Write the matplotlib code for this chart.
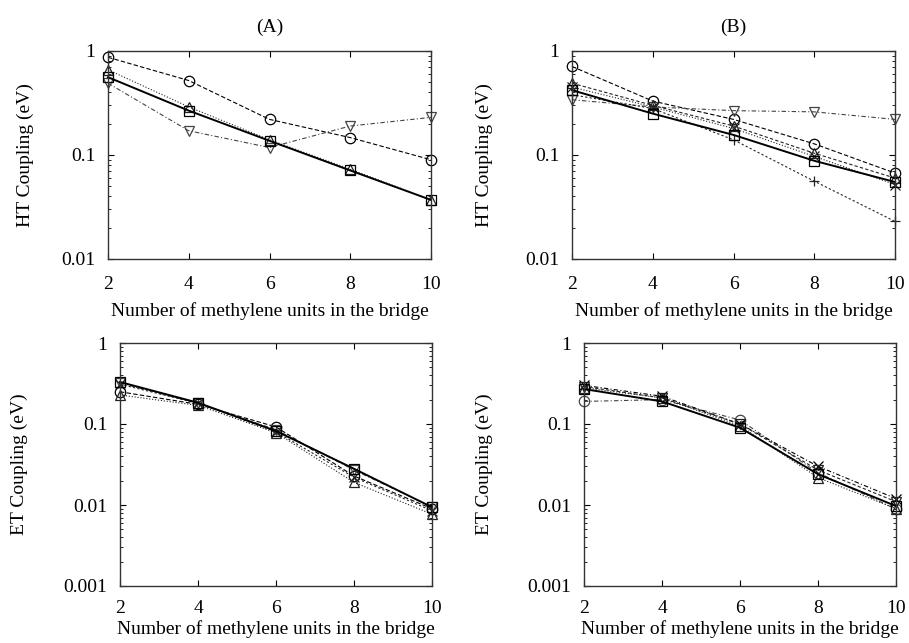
import matplotlib
matplotlib.use("Agg")
import matplotlib.pyplot as plt
from matplotlib.ticker import LogLocator, FixedLocator, FuncFormatter, NullFormatter

plt.rcParams["font.family"] = ["Liberation Serif", "DejaVu Serif"]
plt.rcParams["font.size"] = 14

bridge = [2, 4, 6, 8, 10]

# (A) hole transfer couplings
ht_a_square = [0.56, 0.267, 0.137, 0.071, 0.037]
ht_a_triup = [0.66, 0.29, 0.14, 0.073, 0.037]
ht_a_circle = [0.87, 0.52, 0.22, 0.147, 0.09]
ht_a_tridown = [0.49, 0.171, 0.118, 0.19, 0.23]

# (B) hole transfer couplings
ht_b_square = [0.42, 0.25, 0.156, 0.088, 0.055]
ht_b_circle = [0.71, 0.33, 0.22, 0.128, 0.067]
ht_b_tridown = [0.34, 0.29, 0.267, 0.26, 0.22]
ht_b_plus = [0.38, 0.28, 0.14, 0.056, 0.023]
ht_b_triup = [0.49, 0.30, 0.19, 0.104, 0.06]
ht_b_cross = [0.45, 0.29, 0.18, 0.097, 0.052]

# (A) electron transfer couplings
et_a_square = [0.33, 0.183, 0.082, 0.028, 0.0094]
et_a_circle = [0.25, 0.175, 0.092, 0.0228, 0.009]
et_a_triup = [0.228, 0.17, 0.078, 0.019, 0.0077]
et_a_cross = [0.31, 0.18, 0.08, 0.022, 0.0085]
et_a_tridown = [0.32, 0.18, 0.085, 0.027, 0.0095]

# (B) electron transfer couplings
et_b_square = [0.27, 0.19, 0.09, 0.024, 0.0097]
et_b_circle = [0.19, 0.20, 0.112, 0.025, 0.0089]
et_b_cross = [0.30, 0.22, 0.10, 0.030, 0.012]
et_b_triup = [0.28, 0.21, 0.095, 0.0218, 0.009]
et_b_tridown = [0.29, 0.21, 0.10, 0.027, 0.011]

W, H = 909, 643
fig = plt.figure(figsize=(W / 100, H / 100), dpi=100)


def px_axes(left, right, top, bottom):
    return fig.add_axes([left / W, 1 - bottom / H, (right - left) / W, (bottom - top) / H])


def series(ax, y, marker, ls, lw=0.8, color="black", ms=7.5):
    ax.plot(bridge, y, linestyle=ls, marker=marker, color=color, lw=lw,
            markersize=ms, markerfacecolor="none", markeredgewidth=0.9, clip_on=False)


def fmt(v, pos):
    return ("%g" % v)


def style(ax, ymin, ylabel, label_right, xpad=12, xlabelpad=7):
    ax.set_yscale("log")
    ax.set_xlim(2, 10)
    ax.set_ylim(ymin, 1)
    ax.xaxis.set_major_locator(FixedLocator(bridge))
    ax.yaxis.set_major_locator(LogLocator(base=10, numticks=10))
    ax.yaxis.set_minor_locator(LogLocator(base=10, subs=range(2, 10), numticks=10))
    ax.yaxis.set_major_formatter(FuncFormatter(fmt))
    ax.yaxis.set_minor_formatter(NullFormatter())
    ax.tick_params(which="both", direction="in", top=True, right=True)
    ax.tick_params(which="major", length=4, width=0.8, labelsize=14)
    ax.tick_params(axis="x", which="major", pad=xpad)
    ax.tick_params(axis="y", which="major", pad=9)
    ax.tick_params(which="minor", length=2, width=0.6)
    for s in ax.spines.values():
        s.set_linewidth(1.0)
        s.set_color("#333333")
    ax.set_xlabel("Number of methylene units in the bridge", fontsize=14, labelpad=xlabelpad)
    ax.set_ylabel(ylabel, fontsize=14)
    # y label placed by its right edge, in figure pixels
    pos = ax.get_position()
    ax.yaxis.set_label_coords(label_right / W, pos.y0 + pos.height / 2,
                              transform=fig.transFigure)


# top left
ax = px_axes(108, 431, 51, 259)
series(ax, ht_a_circle, "o", (0, (4, 2)))
series(ax, ht_a_tridown, "v", (0, (4, 2, 1, 2)), color="#444444")
series(ax, ht_a_triup, "^", ":", color="#222222")
series(ax, ht_a_square, "s", "-", lw=1.4)
style(ax, 0.01, "HT Coupling (eV)", 34)
ax.set_title("(A)", fontsize=14, pad=14)

# top right
ax = px_axes(572, 895, 51, 259)
series(ax, ht_b_circle, "o", (0, (4, 2)))
series(ax, ht_b_tridown, "v", (0, (4, 2, 1, 2)), color="#444444")
series(ax, ht_b_plus, "+", (0, (2, 2)), color="#222222")
series(ax, ht_b_triup, "^", (0, (3, 2)), color="#222222")
series(ax, ht_b_cross, "x", ":", color="#222222")
series(ax, ht_b_square, "s", "-", lw=1.4)
style(ax, 0.01, "HT Coupling (eV)", 493)
ax.set_title("(B)", fontsize=14, pad=14)

# bottom left
ax = px_axes(120, 432, 343, 586)
series(ax, et_a_circle, "o", (0, (4, 2)))
series(ax, et_a_tridown, "v", (0, (4, 2, 1, 2)), color="#444444")
series(ax, et_a_triup, "^", ":", color="#222222")
series(ax, et_a_cross, "x", (0, (2, 2)), color="#222222")
series(ax, et_a_square, "s", "-", lw=1.4)
style(ax, 0.001, "ET Coupling (eV)", 28, xpad=10, xlabelpad=2)

# bottom right
ax = px_axes(584, 896, 343, 586)
series(ax, et_b_circle, "o", (0, (4, 2, 1, 2)), color="#444444")
series(ax, et_b_cross, "x", (0, (4, 2, 1, 2)))
series(ax, et_b_triup, "^", ":", color="#222222")
series(ax, et_b_tridown, "v", (0, (3, 2)), color="#222222")
series(ax, et_b_square, "s", "-", lw=1.4)
style(ax, 0.001, "ET Coupling (eV)", 493, xpad=10, xlabelpad=2)

fig.savefig("out.png", dpi=100)
